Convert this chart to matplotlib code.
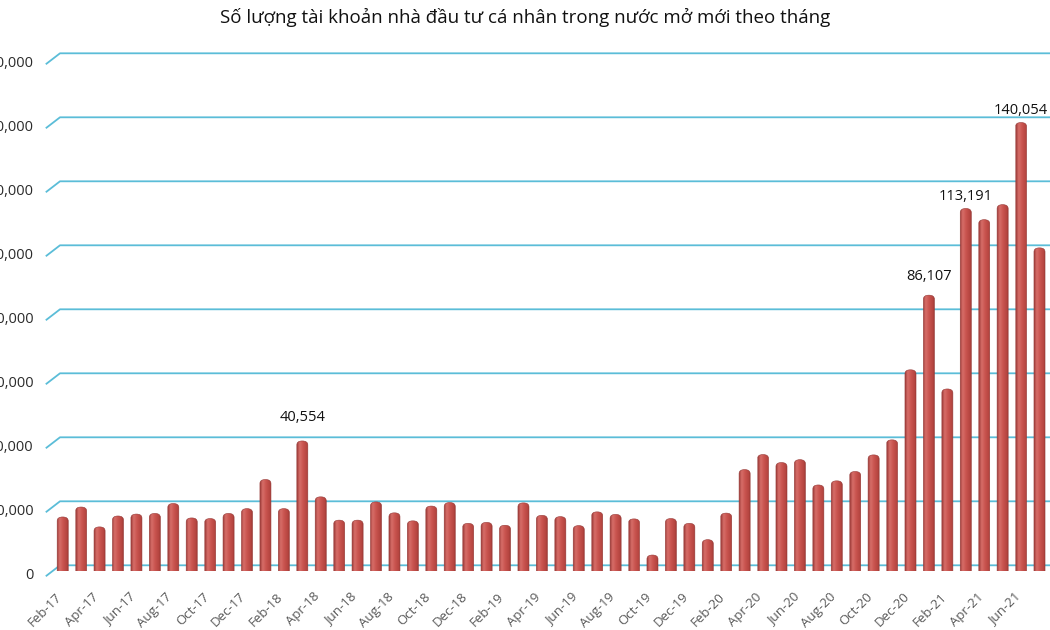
import matplotlib
matplotlib.use('Agg')
import matplotlib.pyplot as plt
from matplotlib.patches import FancyBboxPatch
from matplotlib.colors import LinearSegmentedColormap
from matplotlib.transforms import offset_copy
import numpy as np

plt.rcParams['font.family'] = ['Open Sans', 'DejaVu Sans']

# ---------------------------------------------------------------------------
# Data
# ---------------------------------------------------------------------------
months = [
    'Feb-17', 'Mar-17', 'Apr-17', 'May-17', 'Jun-17', 'Jul-17', 'Aug-17',
    'Sep-17', 'Oct-17', 'Nov-17', 'Dec-17',
    'Jan-18', 'Feb-18', 'Mar-18', 'Apr-18', 'May-18', 'Jun-18', 'Jul-18',
    'Aug-18', 'Sep-18', 'Oct-18', 'Nov-18', 'Dec-18',
    'Jan-19', 'Feb-19', 'Mar-19', 'Apr-19', 'May-19', 'Jun-19', 'Jul-19',
    'Aug-19', 'Sep-19', 'Oct-19', 'Nov-19', 'Dec-19',
    'Jan-20', 'Feb-20', 'Mar-20', 'Apr-20', 'May-20', 'Jun-20', 'Jul-20',
    'Aug-20', 'Sep-20', 'Oct-20', 'Nov-20', 'Dec-20',
    'Jan-21', 'Feb-21', 'Mar-21', 'Apr-21', 'May-21', 'Jun-21', 'Jul-21',
]
accounts = [
    16800, 19900, 13700, 17100, 17700, 17900, 21000, 16500, 16300, 17900,
    19400, 28500, 19400, 40554, 23100, 15800, 15800, 21500, 18100, 15600,
    20200, 21300, 14800, 15100, 14200, 21200, 17300, 16900, 14100, 18400,
    17600, 16200, 4900, 16300, 14800, 9700, 18000, 31600, 36300, 33800,
    34700, 26800, 28100, 31000, 36200, 40900, 62800, 86107, 56800, 113191,
    109700, 114400, 140054, 100900,
]
labelled = ['Mar-18', 'Jan-21', 'Mar-21', 'Jun-21']
y_ticks = [0, 20000, 40000, 60000, 80000, 100000, 120000, 140000, 160000]

TITLE = 'Số lượng tài khoản nhà đầu tư cá nhân trong nước mở mới theo tháng'

GRID_C = '#5BBDD8'
TEXT_C = '#2B2B2B'
bar_cmap = LinearSegmentedColormap.from_list(
    'cyl', [(0.0, '#9E3C39'), (0.22, '#D66E69'), (0.5, '#CA5550'),
            (0.85, '#B4443F'), (1.0, '#8E3331')])

# ---------------------------------------------------------------------------
# Layout: pixel geometry of the original (1050 x 630)
# ---------------------------------------------------------------------------
W, H = 1050, 630
x0_px, step_px = 62.7, 18.43     # centre of first bar, bar spacing
base_px = 570.7                   # bar base (from top)
px_per_k = 3.2                    # pixels per 1000 accounts
xlim = (-0.75, 53.7)
ylim = (0, 170000)

left = (x0_px + xlim[0] * step_px) / W
width = (xlim[1] - xlim[0]) * step_px / W
bottom = (H - base_px) / H
height = (ylim[1] / 1000 * px_per_k) / H

fig = plt.figure(figsize=(W / 100, H / 100), dpi=100)
ax = fig.add_axes([left, bottom, width, height])
ax.set_axis_off()

val_per_px = 1000 / px_per_k
x_per_px = 1 / step_px

# back-wall gridlines with a short perspective step at the left
for g in y_ticks:
    back = g + 5.4 * val_per_px
    front = g - 5.0 * val_per_px
    ax.plot([-16.2 * x_per_px, -2.7 * x_per_px, 60], [front, back, back],
            color=GRID_C, lw=1.3, clip_on=False, zorder=1)
    ax.text(-29.0 * x_per_px, front, f'{g:,}', ha='right', va='center',
            fontsize=10.5, color=TEXT_C, clip_on=False)

# cylinder-like bars
bw = 0.6
grad = bar_cmap(np.linspace(0, 1, 64))[None, :, :]
for i, v in enumerate(accounts):
    patch = FancyBboxPatch((i - bw / 2, -3000), bw, v + 3000,
                           boxstyle=f'round,pad=0,rounding_size={bw / 2}',
                           mutation_aspect=4.0 * val_per_px / (bw / 2),
                           facecolor='none', edgecolor='#963936', lw=0.4,
                           zorder=3)
    ax.add_patch(patch)
    im = ax.imshow(grad, extent=(i - bw / 2, i + bw / 2, -3000, v),
                   aspect='auto', interpolation='bilinear', zorder=2)
    im.set_clip_path(patch)

# value labels
label_offsets = {'Mar-18': 23, 'Jan-21': 19, 'Mar-21': 12, 'Jun-21': 12}
for m in labelled:
    i = months.index(m)
    ax.annotate(f'{accounts[i]:,}', (i, accounts[i]),
                xytext=(0, label_offsets[m] * 0.72), textcoords='offset points',
                ha='center', va='center', fontsize=10.5, color='#111111')

# month labels every second month
lab_tr = offset_copy(ax.transData, fig=fig, x=-3, y=-24, units='dots')
for i in range(0, len(months), 2):
    ax.text(i, 0, months[i], transform=lab_tr, rotation=45,
            rotation_mode='anchor', ha='right', va='center',
            fontsize=9.5, color='#595959', clip_on=False)

ax.set_xlim(*xlim)
ax.set_ylim(*ylim)

fig.text(0.5, 1 - 17 / H, TITLE, ha='center', va='center', fontsize=13.5,
         color='#111111')

fig.savefig('out.png', dpi=100)
